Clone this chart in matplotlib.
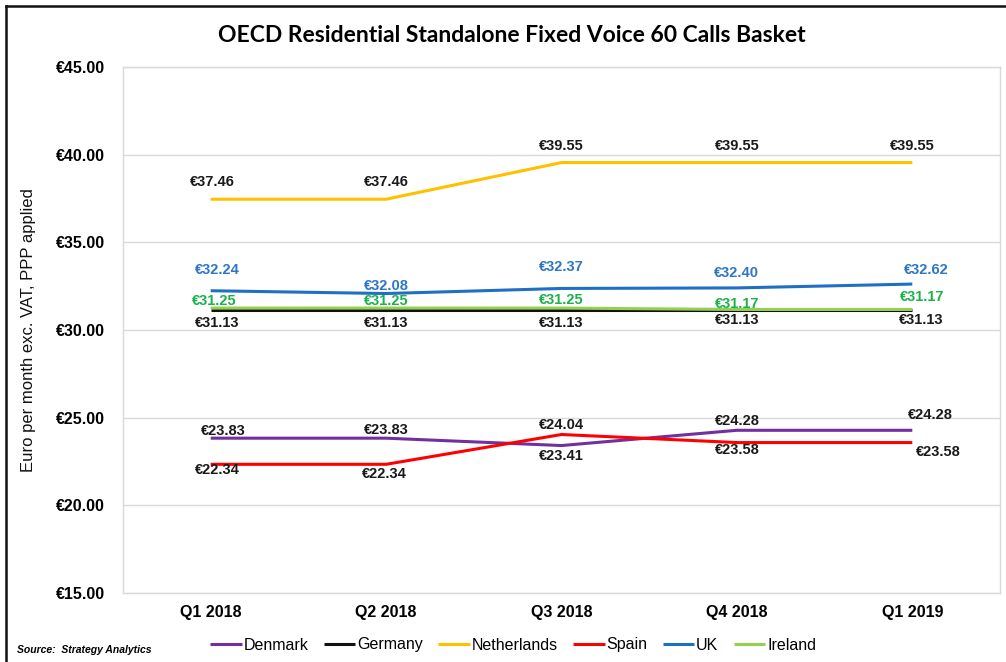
import matplotlib.pyplot as plt
from matplotlib.lines import Line2D

plt.rcParams['font.family'] = ['Liberation Sans', 'DejaVu Sans']

quarters = ['Q1 2018', 'Q2 2018', 'Q3 2018', 'Q4 2018', 'Q1 2019']
denmark = [23.83, 23.83, 23.41, 24.28, 24.28]
germany = [31.13, 31.13, 31.13, 31.13, 31.13]
netherlands = [37.46, 37.46, 39.55, 39.55, 39.55]
spain = [22.34, 22.34, 24.04, 23.58, 23.58]
uk = [32.24, 32.08, 32.37, 32.40, 32.62]
ireland = [31.25, 31.25, 31.25, 31.17, 31.17]
y_ticks = [15, 20, 25, 30, 35, 40, 45]

# series: name, values, line colour, label colour, label offsets in pixels
series = [
    ('Denmark', denmark, '#7030A0', '#1a1a1a',
     [(13, 7), (0, 8), (0, -10), (0, 9), (18, 15)]),
    ('Germany', germany, '#111111', '#1a1a1a',
     [(6, -13), (0, -13), (0, -13), (0, -10), (9, -10)]),
    ('Netherlands', netherlands, '#FFC000', '#1a1a1a',
     [(2, 17), (0, 17), (0, 17), (0, 17), (0, 17)]),
    ('Spain', spain, '#FF0000', '#1a1a1a',
     [(7, -6), (-2, -10), (0, 9), (0, -7), (26, -9)]),
    ('UK', uk, '#1F6FC5', '#2E75C6',
     [(7, 21), (0, 8), (0, 21), (0, 15), (14, 14)]),
    ('Ireland', ireland, '#92D050', '#1DB14B',
     [(4, 7), (0, 7), (0, 8), (0, 5), (10, 12)]),
]

fig = plt.figure(figsize=(10.06, 6.62), dpi=100)
ax = fig.add_axes([123 / 1006, 69 / 662, 877 / 1006, 526 / 662])

x = list(range(len(quarters)))
handles = []
for name, vals, col, lcol, offs in series:
    ln, = ax.plot(x, vals, color=col, lw=2.2, label=name, solid_capstyle='butt')
    handles.append(ln)
    for xi, v, (dx, dy) in zip(x, vals, offs):
        ax.annotate('€%.2f' % v, (xi, v), xytext=(dx, dy), textcoords='offset pixels',
                    ha='center', va='center', fontsize=10.5, fontweight='bold',
                    color=lcol)

ax.set_xlim(-0.5, len(quarters) - 0.5)
ax.set_ylim(15, 45)
ax.set_xticks(x)
ax.set_xticklabels(quarters, fontsize=11.5, fontweight='bold')
ax.set_yticks(y_ticks)
ax.set_yticklabels(['€%.2f' % t for t in y_ticks], fontsize=11.5, fontweight='bold')
ax.tick_params(axis='both', length=0)
ax.tick_params(axis='y', pad=13)
ax.tick_params(axis='x', pad=9)
ax.grid(axis='y', color='#D9D9D9', lw=1)
ax.set_axisbelow(True)
for s in ax.spines.values():
    s.set_color('#D9D9D9')
    s.set_linewidth(1)

ax.set_ylabel('Euro per month exc. VAT, PPP applied', fontsize=12, color='#111111')
ax.yaxis.set_label_coords(-(123 - 36) / 877, 0.5)

fig.text(512 / 1006, 1 - 36 / 662, 'OECD Residential Standalone Fixed Voice 60 Calls Basket',
         ha='center', va='center', fontsize=16.5, fontweight='bold',
         family=['Lato', 'Liberation Sans'])

fig.legend(handles=handles, loc='center', bbox_to_anchor=(513 / 1006, 1 - 645 / 662),
           ncol=6, frameon=False, fontsize=11.5, handlelength=2.0, handletextpad=0.1,
           columnspacing=0.95)

fig.text(17 / 1006, 1 - 650 / 662, 'Source:  Strategy Analytics', ha='left', va='center',
         fontsize=7.5, fontweight='bold', style='italic')

# outer frame (left and top edges only)
fig.add_artist(Line2D([6 / 1006, 6 / 1006], [0, 1 - 6 / 662], color='#111111', lw=1.8))
fig.add_artist(Line2D([6 / 1006, 1], [1 - 6 / 662, 1 - 6 / 662], color='#111111', lw=1.8))

fig.savefig('out.png', dpi=100)
